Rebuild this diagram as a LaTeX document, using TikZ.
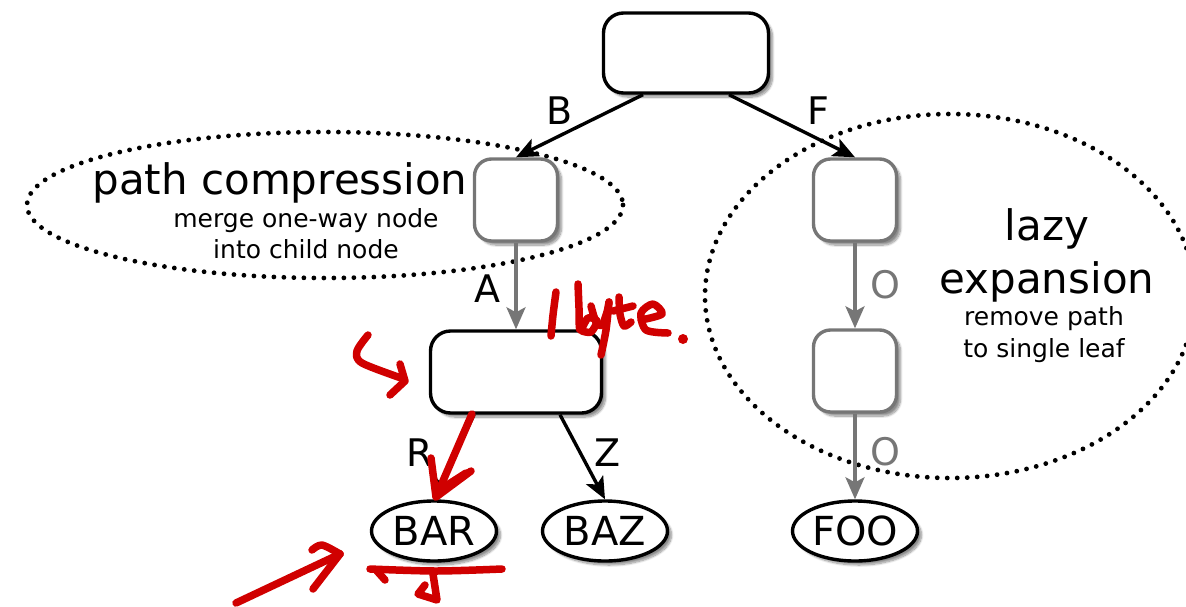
\documentclass[tikz,border=0pt]{standalone}
\usepackage{fontspec}
\setmainfont{DejaVu Sans}
\usetikzlibrary{arrows.meta}
\usetikzlibrary{shapes.geometric}
\usetikzlibrary{shadows.blur}

\definecolor{pen}{RGB}{208,0,0}
\definecolor{edgegray}{RGB}{118,118,118}

\begin{document}
\begin{tikzpicture}[
		x=1pt, y=-1pt,
		inode/.style={draw, line width=3.4pt, rounded corners=20pt, fill=white, inner sep=0pt,
			blur shadow={shadow xshift=4pt, shadow yshift=-4pt, shadow blur steps=10, shadow opacity=45}},
		gnode/.style={inode, draw=edgegray, rounded corners=17pt, minimum width=83pt, minimum height=82pt},
		leaf/.style={ellipse, draw, line width=3.4pt, fill=white, inner sep=0pt,
			minimum width=125pt, minimum height=60pt, font=\fontsize{40}{42}\selectfont,
			blur shadow={shadow xshift=4pt, shadow yshift=-4pt, shadow blur steps=10, shadow opacity=45}},
		edge/.style={line width=3.4pt, -{Stealth[length=22pt,width=19pt,inset=5pt]}},
		gedge/.style={edge, draw=edgegray},
		lbl/.style={font=\fontsize{38}{40}\selectfont, inner sep=0pt},
		zone/.style={line width=4.8pt, dash pattern=on 0pt off 10pt, line cap=round},
		big/.style={font=\fontsize{42}{48}\selectfont, inner sep=0pt, anchor=base},
		note/.style={font=\fontsize{25}{30}\selectfont, inner sep=0pt, anchor=base},
		ink/.style={draw=pen, line width=7.5pt, line cap=round, line join=round}
		]
		\useasboundingbox (0,0) rectangle (1186,606);

		% the two optimisations
		\draw[zone] (325,205) ellipse [x radius=298, y radius=73];
		\draw[zone] (950,296) ellipse [x radius=245, y radius=182];

		% trie
		\node[inode, minimum width=165pt, minimum height=80pt] (root) at (686,53) {};
		\node[gnode] (nb) at (516,200) {};
		\node[gnode] (nf) at (855,200) {};
		\node[inode, minimum width=171pt, minimum height=82pt] (na) at (516,372) {};
		\node[gnode] (no) at (855,371) {};
		\node[leaf] (bar) at (434,531) {BAR};
		\node[leaf] (baz) at (605,531) {BAZ};
		\node[leaf] (foo) at (855,531) {FOO};

		\draw[edge] ([xshift=-43pt]root.south) -- (nb.north);
		\draw[edge] ([xshift=43pt]root.south) -- (nf.north);
		\draw[gedge] (nb.south) -- (na.north);
		\draw[edge] ([xshift=-42pt]na.south) -- (bar.north);
		\draw[edge] ([xshift=44pt]na.south) -- (baz.north);
		\draw[gedge] (nf.south) -- (no.north);
		\draw[gedge] (no.south) -- (foo.north);

		\node[lbl] (lb) at (560,111) {B};
		\node[lbl] (lf) at (818,111) {F};
		\node[lbl] (la) at (487,289) {A};
		\node[lbl] (lr) at (420,453) {R};
		\node[lbl] (lz) at (608,453) {Z};
		\node[lbl, text=edgegray] (lo1) at (885,285) {O};
		\node[lbl, text=edgegray] (lo2) at (885,452) {O};

		% captions
		\node[big] (pc) at (280,194) {path compression};
		\node[note] (pc1) at (306,227) {merge one-way node};
		\node[note] (pc2) at (306,258) {into child node};
		\node[big] (le1) at (1047,240) {lazy};
		\node[big] (le2) at (1047,293) {expansion};
		\node[note] (le3) at (1044,325) {remove path};
		\node[note] (le4) at (1044,357) {to single leaf};

		% hand notes
		\draw[ink] plot[smooth] coordinates {(556,292) (553,315) (551,336)};
		\draw[ink] plot[smooth] coordinates {(578,284) (579,308) (580,330) (588,318) (597,321) (591,332) (582,331)};
		\draw[ink] plot[smooth] coordinates {(591,306) (596,322) (602,325) (607,312) (609,302)};
		\draw[ink] plot[smooth] coordinates {(609,302) (606,330) (601,355)};
		\draw[ink] plot[smooth] coordinates {(619,297) (620,314) (624,326) (631,322)};
		\draw[ink] (613,311) -- (633,306);
		\draw[ink] plot[smooth] coordinates {(641,320) (662,314) (653,304) (641,313) (646,330) (668,333)};
		\fill[pen] (683,339) circle (5pt);

		\draw[ink] plot[smooth] coordinates {(368,335) (357,351) (362,363) (404,379)};
		\draw[ink] (400,364) -- (405,381) -- (390,395);

		\draw[ink] (472,414) -- (436,497);
		\draw[ink] (431,458) -- (436,497) -- (471,471);
		\draw[ink] (441,489) -- (466,473);

		\draw[ink] plot[smooth] coordinates {(370,569) (436,571) (502,569)};
		\draw[ink] (377,571) -- (385,580);
		\draw[ink] (433,574) -- (437,600) -- (418,594) -- (425,585);

		\draw[ink] (236,603) -- (340,554);
		\draw[ink] plot[smooth] coordinates {(312,550) (322,545) (340,554)};
		\draw[ink] (340,554) -- (313,589);
	\end{tikzpicture}
\end{document}
